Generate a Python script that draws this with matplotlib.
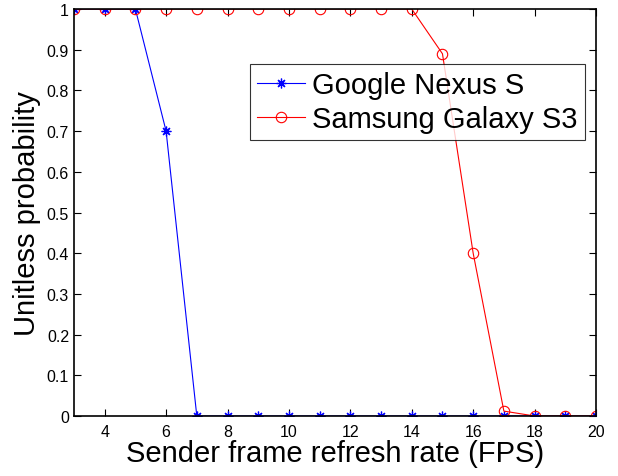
import matplotlib
matplotlib.use("Agg")
import matplotlib.pyplot as plt
import numpy as np

plt.rcParams['font.family'] = ['Liberation Sans', 'DejaVu Sans']

# frame refresh rates (FPS) and detection probability per device
fps = [3, 4, 5, 6, 7, 8, 9, 10, 11, 12, 13, 14, 15, 16, 17, 18, 19, 20]
nexus_s = [1, 1, 1, 0.7, 0, 0, 0, 0, 0, 0, 0, 0, 0, 0, 0, 0, 0, 0]
galaxy_s3 = [1, 1, 1, 1, 1, 1, 1, 1, 1, 1, 1, 1, 0.89, 0.4, 0.012, 0, 0, 0]

x_ticks = [4, 6, 8, 10, 12, 14, 16, 18, 20]
y_ticks = [0, 0.1, 0.2, 0.3, 0.4, 0.5, 0.6, 0.7, 0.8, 0.9, 1]
y_tick_labels = ['0', '0.1', '0.2', '0.3', '0.4', '0.5', '0.6', '0.7', '0.8', '0.9', '1']

fig = plt.figure(figsize=(6.18, 4.77), dpi=100)
ax = fig.add_axes([0.1197, 0.1258, 0.8447, 0.8532])

# 8-spoke asterisk, like the classic '*' marker
asterisk = (8, 2, 0)
ax.plot(fps, nexus_s, '-', color='blue', marker=asterisk, markersize=7,
        linewidth=0.8, markeredgewidth=0.9, label='Google Nexus S')
ax.plot(fps, galaxy_s3, '-', color='red', marker='o', markersize=7.5,
        markerfacecolor='none', linewidth=0.8, markeredgewidth=0.8,
        label='Samsung Galaxy S3')

ax.set_xlim(3, 20)
ax.set_ylim(0, 1)
ax.set_xticks(x_ticks)
ax.set_yticks(y_ticks)
ax.set_yticklabels(y_tick_labels)
ax.tick_params(direction='in', top=True, right=True, labelsize=11.5,
               length=5, width=0.8)
ax.tick_params(axis='x', pad=6)
for spine in ax.spines.values():
    spine.set_linewidth(1.2)

ax.set_xlabel('Sender frame refresh rate (FPS)', fontsize=21, labelpad=0)
ax.set_ylabel('Unitless probability', fontsize=21, labelpad=4)

leg = ax.legend(loc='upper right', bbox_to_anchor=(0.979, 0.865), fontsize=21,
                frameon=True, fancybox=False, handlelength=1.65,
                borderpad=0.25, labelspacing=0.2, handletextpad=0.25,
                borderaxespad=0)
leg.get_frame().set_edgecolor('black')
leg.get_frame().set_linewidth(0.8)

fig.savefig('out.png', dpi=100)
